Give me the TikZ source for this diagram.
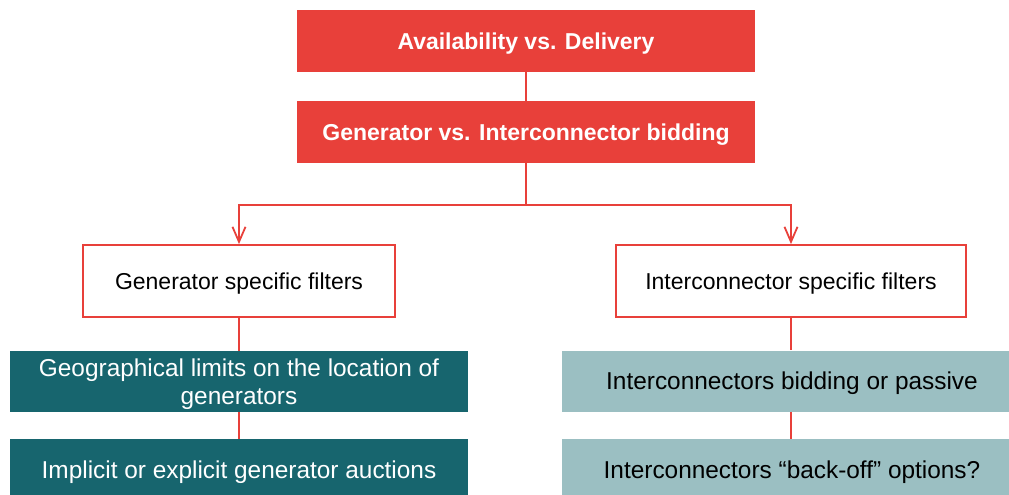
\documentclass[tikz,border=0pt]{standalone}
\usepackage{fontspec}
\setmainfont{Liberation Sans}
\usetikzlibrary{arrows.meta, positioning}
\definecolor{boxred}{HTML}{E8403A}
\definecolor{darkteal}{HTML}{17656E}
\definecolor{paleteal}{HTML}{9BBFC2}

\begin{document}
\begin{tikzpicture}[x=0.5pt, y=-0.5pt,
    redbox/.style={fill=boxred, text=white, font=\fontsize{11.5}{14}\selectfont\bfseries,
      minimum width=229pt, minimum height=31pt, inner sep=0pt, text depth=0pt},
    filterbox/.style={draw=boxred, line width=0.9pt, fill=white, font=\fontsize{11.5}{14}\selectfont,
      minimum height=36pt, inner sep=0pt, text depth=0pt},
    genbox/.style={fill=darkteal, text=white, font=\fontsize{12.2}{14}\selectfont,
      minimum width=229pt, minimum height=30.5pt, inner sep=0pt, align=center, text depth=0pt},
    icbox/.style={fill=paleteal, text=black, font=\fontsize{12.2}{14}\selectfont,
      minimum width=230pt, minimum height=30.5pt, inner sep=0pt, align=center, text depth=0pt},
    link/.style={draw=boxred, line width=0.9pt}]

  \useasboundingbox (0,0) rectangle (1009,494);
  \clip (0,0) rectangle (1009,494);

  \node[redbox] (avail) at (526, 41) {Availability vs. Delivery};
  \node[redbox] (bid) at (526, 132) {Generator vs. Interconnector bidding};

  \node[filterbox, minimum width=156pt] (gen) at (239, 281) {Generator specific filters};
  \node[filterbox, minimum width=175pt] (inter) at (791, 281) {Interconnector specific filters};

  \node[genbox] (geo) at (239, 381.5) {Geographical limits on the location of\\generators};
  \node[genbox] (auct) at (239, 469.5) {Implicit or explicit generator auctions};

  \node[icbox] (passive) at (792, 381) {Interconnectors bidding or passive};
  \node[icbox] (backoff) at (792, 469.5) {Interconnectors “back-off” options?};

  \coordinate (split) at (526, 205);

  \draw[link] (avail) -- (bid);
  \draw[link] (bid.south) -- (split);
  \draw[link, -{Straight Barb[length=7.5pt, width=6.5pt]}] (split) -| (gen.north);
  \draw[link, -{Straight Barb[length=7.5pt, width=6.5pt]}] (split) -| (inter.north);

  \draw[link] (gen.south) -- (gen.south |- geo.north);
  \draw[link] (geo) -- (auct);
  \draw[link] (inter.south) -- (inter.south |- passive.north);
  \draw[link] (inter.south |- passive.south) -- (inter.south |- backoff.north);
\end{tikzpicture}
\end{document}
